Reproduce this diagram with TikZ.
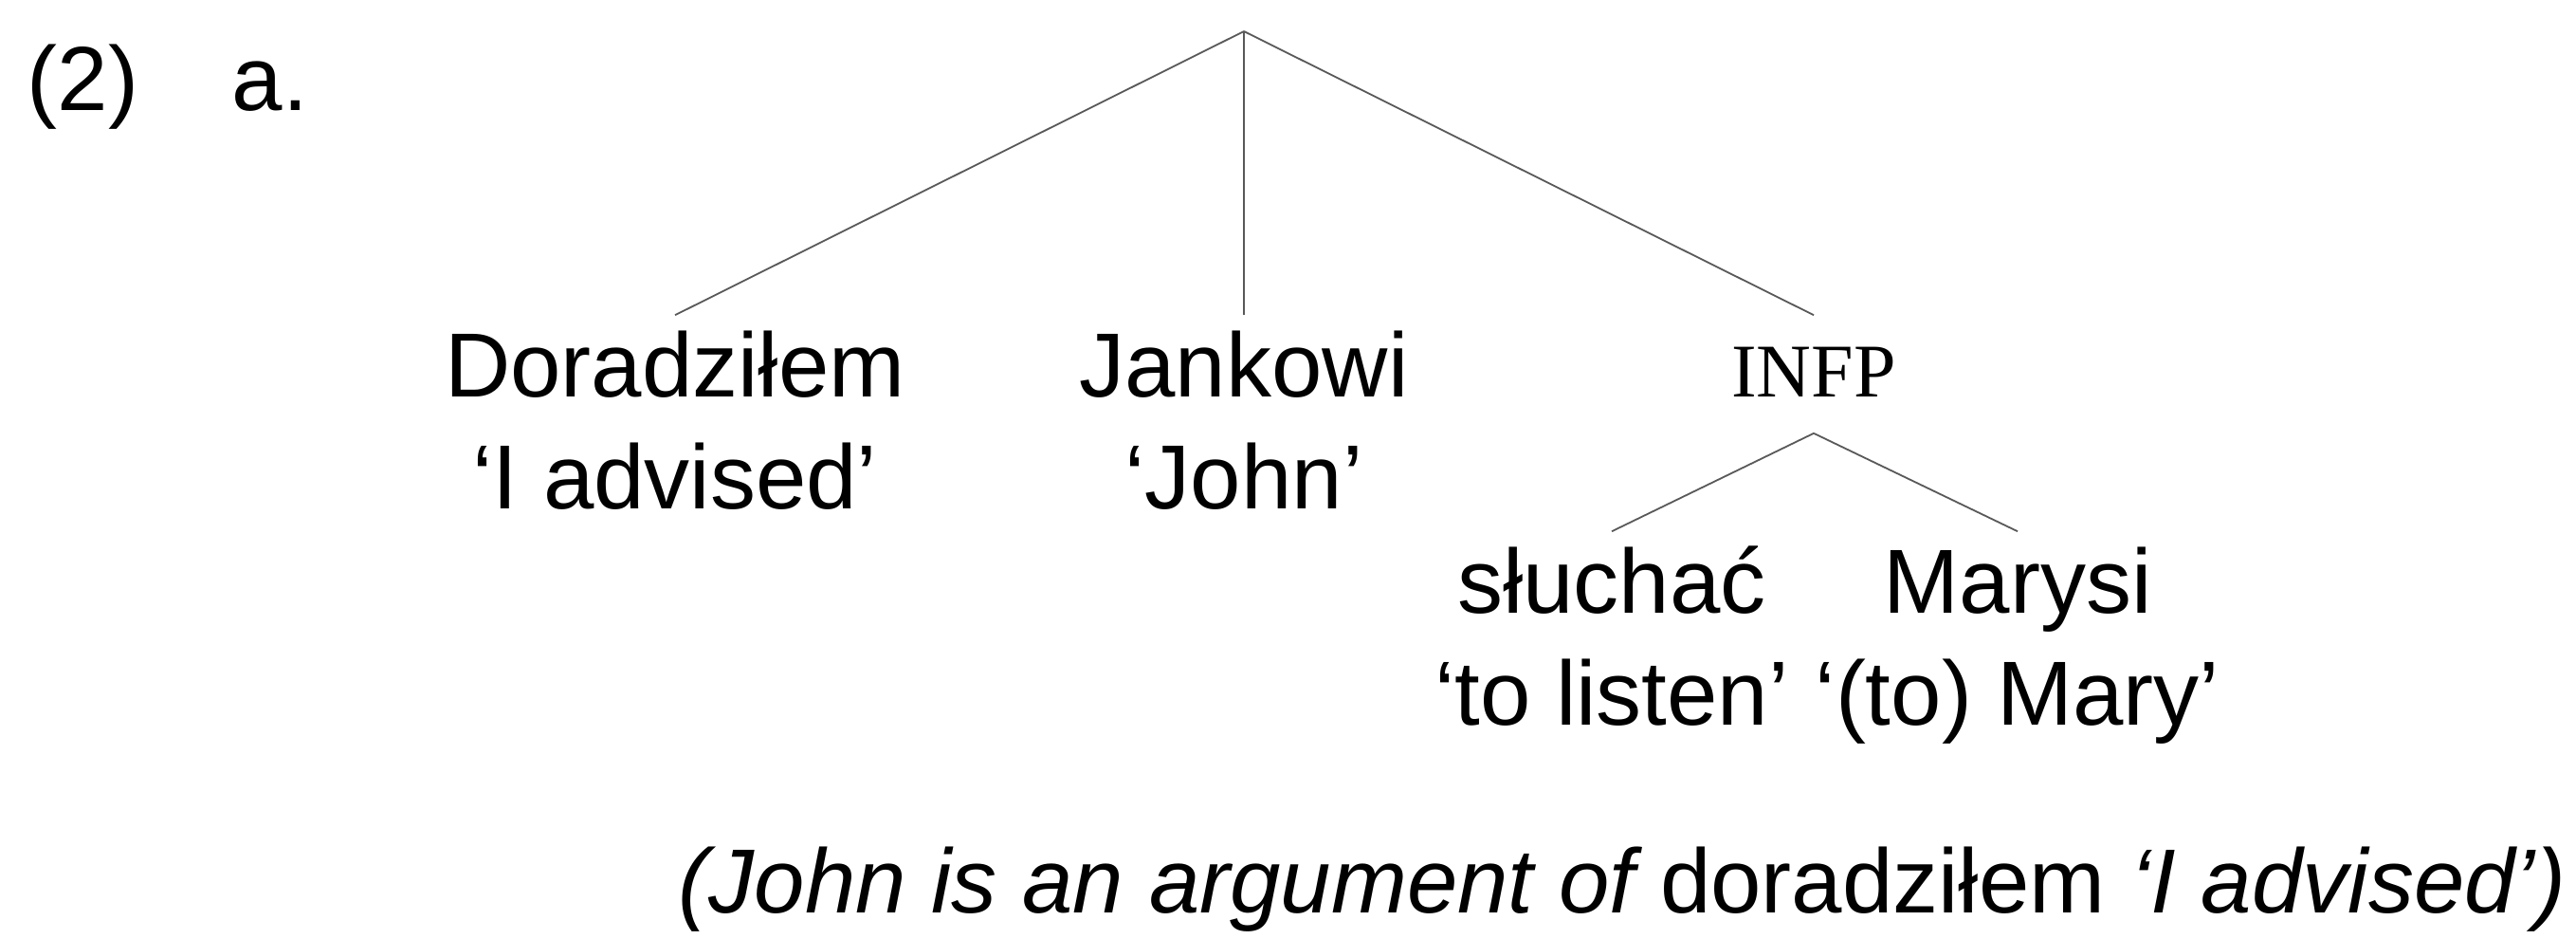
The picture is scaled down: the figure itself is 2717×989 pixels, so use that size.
\documentclass[tikz,border=0pt]{standalone}
\usepackage{fontspec}
\setmainfont{Liberation Sans}
\newfontfamily\catfont{Liberation Serif}
\begin{document}
\begin{tikzpicture}[x=0.25pt,y=-0.25pt,
  word/.style={anchor=base, inner sep=0pt, font=\fontsize{24}{28}\selectfont},
  tnode/.style={word, text height=21.25pt, text depth=9.5pt},
  cat/.style={tnode, font=\catfont\fontsize{20}{24}\selectfont},
  branch/.style={draw=black!65, line width=0.45pt}]
\useasboundingbox (0,0) rectangle (2717,989);

% example number
\node[word, anchor=base west] (num) at (28,116) {(2)};
\node[word, anchor=base west] (sub) at (244,116) {a.};

% top level of the tree
\coordinate (root) at (1312,33);
\node[tnode] (dor) at (712,418) {Doradziłem};
\node[tnode] (jan) at (1312,418) {Jankowi};
\node[cat] (infp) at (1913,418) {INFP};
\node[word] (dorgl) at (712,536) {‘I advised’};
\node[word] (jangl) at (1312,536) {‘John’};

% infinitival phrase
\node[tnode] (slu) at (1700,646) {słuchać};
\node[tnode] (mar) at (2128,646) {Marysi};
\node[word] (slugl) at (1700,764) {‘to listen’};
\node[word] (margl) at (2128,764) {‘(to) Mary’};

\draw[branch] (root) -- (dor.north);
\draw[branch] (root) -- (jan.north);
\draw[branch] (root) -- (infp.north);
\draw[branch] (infp.south) -- (slu.north);
\draw[branch] (infp.south) -- (mar.north);

% comment line
\node[word, anchor=base east] (note) at (2707,962)
  {\itshape (John is an argument of \upshape doradziłem \itshape ‘I advised’)};
\end{tikzpicture}
\end{document}
